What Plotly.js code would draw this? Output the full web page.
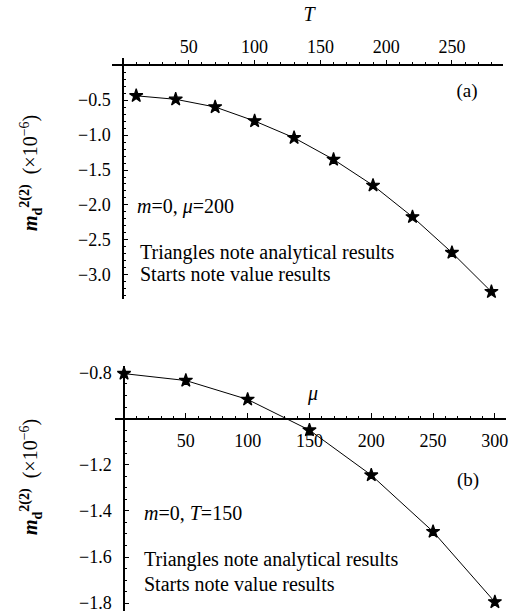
<!DOCTYPE html>
<html>
<head>
<meta charset="utf-8">
<script src="https://cdn.plot.ly/plotly-3.0.1.min.js"></script>
<style>html,body{margin:0;padding:0;background:#fff;}#chart{width:519px;height:613px;}</style>
</head>
<body>
<div id="chart"></div>
<script>
// Panel (a): m_d^{2(2)} vs T  (m=0, mu=200)
const T_a = [10, 40, 70, 100, 130, 160, 190, 220, 250, 280];
const m_a = [-0.44, -0.49, -0.60, -0.80, -1.04, -1.35, -1.72, -2.17, -2.68, -3.24];
const xTicks_a = [50, 100, 150, 200, 250];
const yTicks_a = [-0.5, -1.0, -1.5, -2.0, -2.5, -3.0];

// Panel (b): m_d^{2(2)} vs mu  (m=0, T=150)
const mu_b = [0, 50, 100, 150, 200, 250, 300];
const m_b = [-0.805, -0.835, -0.917, -1.05, -1.245, -1.49, -1.795];
const xTicks_b = [50, 100, 150, 200, 250, 300];
const yTicks_b = [-0.8, -1.2, -1.4, -1.6, -1.8];

const W = 519, H = 613;
const fx = px => px / W;
const fy = py => 1 - py / H;
const FONT = "Liberation Serif, Times New Roman, serif";

// axis geometry
const xDomA = [fx(112), fx(503)], xRangeA = [-8.4, 288.8];
const yDomA = [fy(299), fy(58)], yRangeA = [-3.343, 0.1];
const xDomB = [fx(115), fx(506)], xRangeB = [-7.3, 309];
const yDomB = [fy(611), fy(366)], yRangeB = [-1.834, -0.772];

function posOf(val, range, dom) {
  return dom[0] + (val - range[0]) / (range[1] - range[0]) * (dom[1] - dom[0]);
}

const star = {symbol: 'star', size: 10, color: 'black', line: {color: 'black', width: 1.2}};
const traces = [
  {x: T_a, y: m_a, xaxis: 'x', yaxis: 'y', mode: 'lines+markers',
   line: {color: 'black', width: 1}, marker: star, cliponaxis: false, showlegend: false},
  {x: mu_b, y: m_b, xaxis: 'x2', yaxis: 'y2', mode: 'lines+markers',
   line: {color: 'black', width: 1}, marker: star, cliponaxis: false, showlegend: false}
];

// Text labels placed on a hidden full-page overlay (pixel coordinates)
function label(text, px, py, pos, size) {
  traces.push({
    x: [px], y: [py], xaxis: 'x3', yaxis: 'y3', mode: 'text', text: [text],
    textposition: pos || 'middle right', cliponaxis: false, showlegend: false, hoverinfo: 'skip',
    textfont: {family: FONT, size: size || 20, color: 'black'}
  });
}
label('<i>T</i>', 309, 16, 'middle center');
label('(a)', 467, 92, 'middle center', 19);
label('<i>m</i>=0, <i>\u03bc</i>=200', 137, 208);
label('Triangles note analytical results', 140, 254);
label('Starts note value results', 140, 276);
label('<i>\u03bc</i>', 313, 395, 'middle center');
label('(b)', 468, 481, 'middle center', 19);
label('<i>m</i>=0, <i>T</i>=150', 144, 515);
label('Triangles note analytical results', 144, 561);
label('Starts note value results', 144, 586);

const common = {
  showgrid: false, zeroline: false, showline: true, linecolor: 'black', linewidth: 1.5,
  tickcolor: 'black', tickwidth: 1.2, tickfont: {family: FONT, size: 18, color: 'black'},
  tickmode: 'array', fixedrange: true, ticklabeloverflow: 'allow'
};

const layout = {
  width: W, height: H,
  margin: {l: 0, r: 0, t: 0, b: 0},
  paper_bgcolor: 'white', plot_bgcolor: 'rgba(0,0,0,0)',
  showlegend: false,
  xaxis: Object.assign({}, common, {
    domain: xDomA, range: xRangeA, anchor: 'free', side: 'top',
    position: posOf(0, yRangeA, yDomA),
    tickvals: xTicks_a, ticks: 'outside', ticklen: 4,
    minor: {ticks: 'outside', ticklen: 2, dtick: 10, tick0: 0, tickcolor: 'black', tickwidth: 1}
  }),
  yaxis: Object.assign({}, common, {
    domain: yDomA, range: yRangeA, anchor: 'free',
    position: posOf(0, xRangeA, xDomA),
    tickvals: yTicks_a, ticktext: yTicks_a.map(v => '\u2212' + Math.abs(v).toFixed(1)),
    ticks: 'inside', ticklen: 4, ticklabelstandoff: 8,
    minor: {ticks: 'inside', ticklen: 2, dtick: 0.1, tick0: 0, tickcolor: 'black', tickwidth: 1}
  }),
  xaxis2: Object.assign({}, common, {
    domain: xDomB, range: xRangeB, anchor: 'free', side: 'bottom',
    position: posOf(-1.0, yRangeB, yDomB),
    tickvals: xTicks_b, ticks: 'inside', ticklen: 5, ticklabelstandoff: 6,
    minor: {ticks: 'inside', ticklen: 2, dtick: 10, tick0: 0, tickcolor: 'black', tickwidth: 1}
  }),
  yaxis2: Object.assign({}, common, {
    domain: yDomB, range: yRangeB, anchor: 'free',
    position: posOf(0, xRangeB, xDomB),
    tickvals: yTicks_b, ticktext: yTicks_b.map(v => '\u2212' + Math.abs(v).toFixed(1)),
    ticks: 'inside', ticklen: 4, ticklabelstandoff: 8,
    minor: {ticks: 'inside', ticklen: 2, dtick: 0.05, tick0: 0, tickcolor: 'black', tickwidth: 1}
  }),
  xaxis3: {domain: [0, 1], range: [0, W], anchor: 'y3', visible: false, fixedrange: true},
  yaxis3: {domain: [0, 1], range: [H, 0], anchor: 'x3', visible: false, fixedrange: true},
  annotations: []
};

const yTitle = '<b><i>m</i><sub>d</sub><sup>2(2)</sup></b>\u00a0\u00a0(\u00d710<sup>\u22126</sup>)';
const tFont = {family: FONT, size: 20, color: 'black'};
[[31, 173], [31, 477]].forEach(p => layout.annotations.push({
  text: yTitle, xref: 'paper', yref: 'paper', x: fx(p[0]), y: fy(p[1]),
  xanchor: 'center', yanchor: 'middle', showarrow: false, textangle: -90, font: tFont
}));

Plotly.newPlot('chart', traces, layout, {displayModeBar: false});
</script>
</body>
</html>
